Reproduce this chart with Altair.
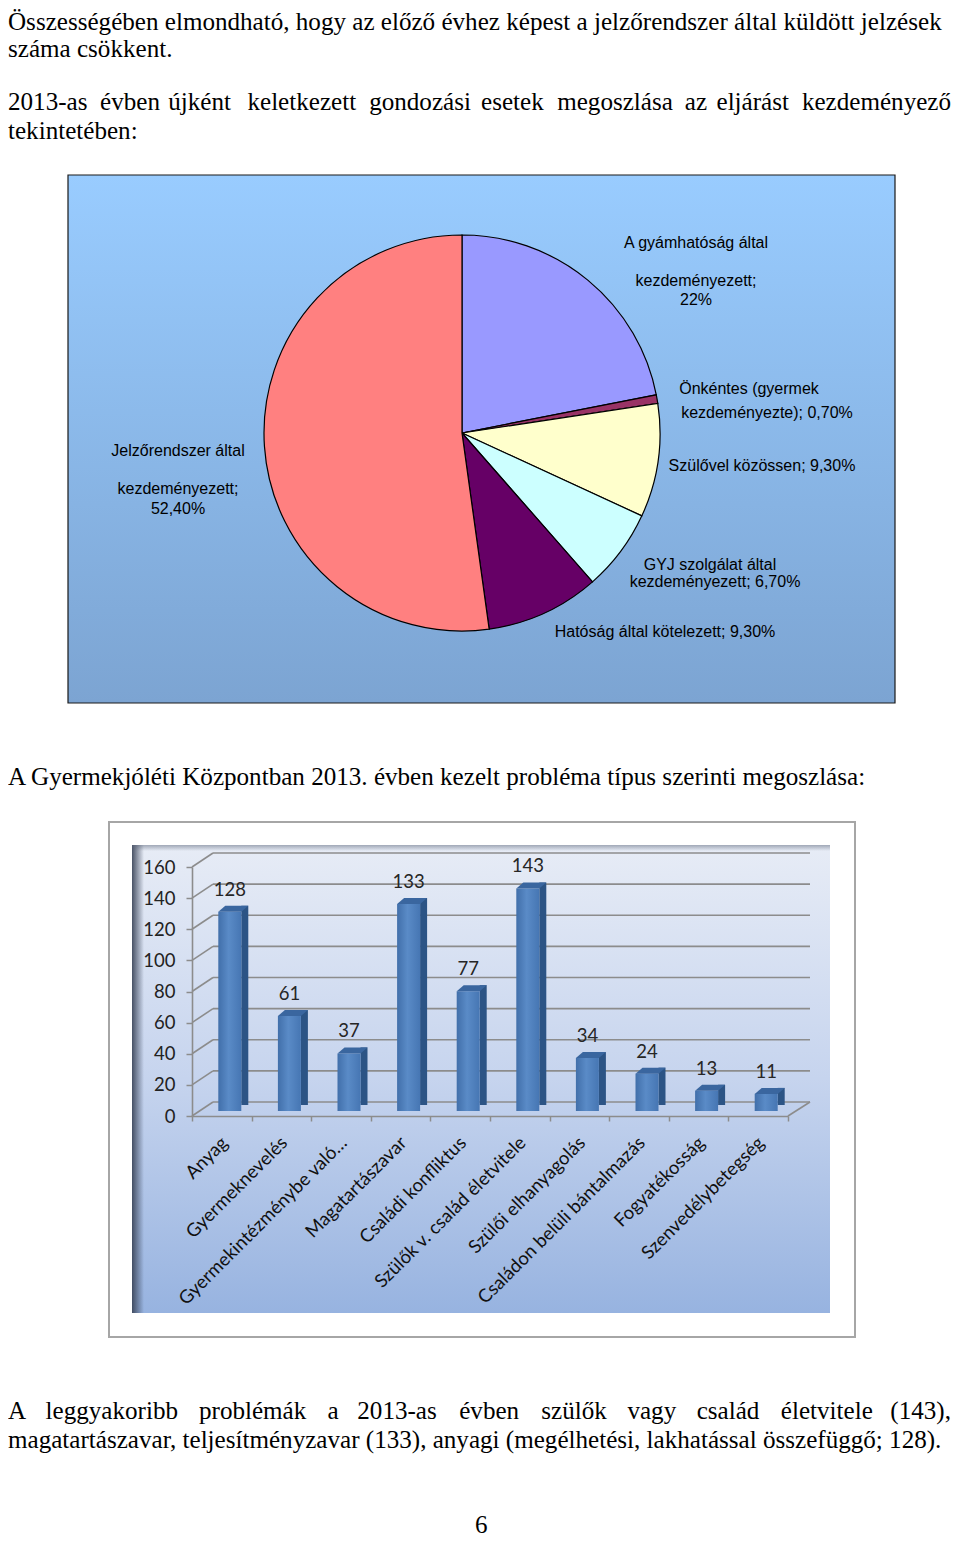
import altair as alt
import pandas as pd

W, H = 944, 1531

# ---------------- data ----------------
pie_categories = [
    "A gyámhatóság által kezdeményezett",
    "Önkéntes (gyermek kezdeményezte)",
    "Szülővel közössen",
    "GYJ szolgálat által kezdeményezett",
    "Hatóság által kötelezett",
    "Jelzőrendszer által kezdeményezett",
]
pie_values = [22.0, 0.7, 9.3, 6.7, 9.3, 52.4]
pie_colors = ["#9999FF", "#993366", "#FFFFCC", "#CCFFFF", "#660066", "#FF8080"]

pie_label_lines = [
    "A gyámhatóság által", "kezdeményezett;", "22%",
    "Önkéntes (gyermek", "kezdeményezte); 0,70%",
    "Szülővel közössen; 9,30%",
    "GYJ szolgálat által", "kezdeményezett; 6,70%",
    "Hatóság által kötelezett; 9,30%",
    "Jelzőrendszer által", "kezdeményezett;", "52,40%",
]

bar_categories = [
    "Anyag", "Gyermeknevelés", "Gyermekintézménybe való…", "Magatartászavar",
    "Családi konfliktus", "Szülők v. család életvitele", "Szülői elhanyagolás",
    "Családon belüli bántalmazás", "Fogyatékosság", "Szenvedélybetegség",
]
bar_values = [128, 61, 37, 133, 77, 143, 34, 24, 13, 11]
y_ticks = [0, 20, 40, 60, 80, 100, 120, 140, 160]

para_lines = [
    "Összességében elmondható, hogy az előző évhez képest a jelzőrendszer által küldött jelzések",
    "száma csökkent.",
    "tekintetében:",
    "A Gyermekjóléti Központban 2013. évben kezelt probléma típus szerinti megoszlása:",
    "magatartászavar, teljesítményzavar (133), anyagi (megélhetési, lakhatással összefüggő; 128).",
    "6",
]
just_words_1 = "2013-as évben újként keletkezett gondozási esetek megoszlása az eljárást kezdeményező".split()
just_words_2 = "A leggyakoribb problémák a 2013-as évben szülők vagy család életvitele (143),".split()

# ---------------- layout (page pixels) ----------------
para_x = [4, 4, 4, 4, 4, 476]
para_base = [30, 57, 139, 785, 1448, 1533]
just_x_1 = [4, 97, 166, 246, 369, 482, 559, 688, 720]
just_base_1 = 110
just_x_2 = [4, 42, 197, 327, 357, 460, 543, 630, 700, 785]
just_base_2 = 1419
right_edge = 957

pie_label_cx = [696, 696, 696, 749, 767, 762, 710, 715, 665, 178, 178, 178]
pie_label_cy = [243, 281, 300, 389, 413, 466, 565, 582, 632, 451, 489, 509]


def tx(px):
    return (px - 4) * W / 954.0


def cy(py):
    return py - 8


# ---------------- body text ----------------
rows = []
for t, x, b in zip(para_lines, para_x, para_base):
    rows.append({"t": t, "x": tx(x), "y": cy(b)})
for t, x in zip(just_words_1[:-1], just_x_1):
    rows.append({"t": t, "x": tx(x), "y": cy(just_base_1)})
for t, x in zip(just_words_2[:-1], just_x_2):
    rows.append({"t": t, "x": tx(x), "y": cy(just_base_2)})
body_df = pd.DataFrame(rows)
body_r_df = pd.DataFrame({
    "t": [just_words_1[-1], just_words_2[-1]],
    "x": [tx(right_edge), tx(right_edge)],
    "y": [cy(just_base_1), cy(just_base_2)],
})

body_style = dict(font="Liberation Serif", fontSize=25.1, color="#000000", baseline="alphabetic")
body = alt.Chart(body_df).mark_text(align="left", **body_style).encode(
    x=alt.X("x:Q", scale=None, axis=None),
    y=alt.Y("y:Q", scale=None, axis=None),
    text="t:N",
)
body_r = alt.Chart(body_r_df).mark_text(align="right", **body_style).encode(
    x=alt.X("x:Q", scale=None, axis=None),
    y=alt.Y("y:Q", scale=None, axis=None),
    text="t:N",
)

one = pd.DataFrame({"a": [0]})

# ---------------- pie panel ----------------
pie_bg = alt.Chart(one).mark_rect(
    color=alt.LinearGradient(
        gradient="linear", x1=0, x2=0, y1=0, y2=1,
        stops=[alt.GradientStop(color="#99CCFF", offset=0),
               alt.GradientStop(color="#7CA4D2", offset=1)],
    ),
    stroke="#1a1a1a", strokeWidth=1.2,
).encode(x=alt.value(60), x2=alt.value(887), y=alt.value(167), y2=alt.value(695))

pie_df = pd.DataFrame({"cat": pie_categories, "v": pie_values, "idx": list(range(len(pie_values)))})
pie = alt.Chart(pie_df).mark_arc(radius=198, stroke="#000000", strokeWidth=1.2).encode(
    theta=alt.Theta("v:Q", stack=True),
    order=alt.Order("idx:Q"),
    color=alt.Color("cat:N", scale=alt.Scale(domain=pie_categories, range=pie_colors), legend=None),
    x=alt.value(454),
    y=alt.value(425),
)

pl_df = pd.DataFrame({"t": pie_label_lines,
                      "x": [c - 8 for c in pie_label_cx],
                      "y": [cy(c) for c in pie_label_cy]})
pie_labels = alt.Chart(pl_df).mark_text(
    font="Liberation Sans", fontSize=16, color="#000000", align="center", baseline="middle"
).encode(
    x=alt.X("x:Q", scale=None, axis=None),
    y=alt.Y("y:Q", scale=None, axis=None),
    text="t:N",
)

# ---------------- bar chart panel ----------------
frame = alt.Chart(one).mark_rect(color="#FFFFFF", stroke="#A6A6A6", strokeWidth=2).encode(
    x=alt.value(101), x2=alt.value(847), y=alt.value(814), y2=alt.value(1329))

inner = alt.Chart(one).mark_rect(
    color=alt.LinearGradient(
        gradient="linear", x1=0, x2=0, y1=0, y2=1,
        stops=[alt.GradientStop(color="#E7ECF6", offset=0),
               alt.GradientStop(color="#C6D4EE", offset=0.5),
               alt.GradientStop(color="#97B3E0", offset=1)],
    )
).encode(x=alt.value(124), x2=alt.value(822), y=alt.value(837), y2=alt.value(1305))

shadow_left = alt.Chart(one).mark_rect(
    color=alt.LinearGradient(
        gradient="linear", x1=0, x2=1, y1=0, y2=0,
        stops=[alt.GradientStop(color="rgba(55,65,85,0.9)", offset=0),
               alt.GradientStop(color="rgba(55,65,85,0)", offset=1)],
    )
).encode(x=alt.value(124), x2=alt.value(136), y=alt.value(837), y2=alt.value(1305))

shadow_top = alt.Chart(one).mark_rect(
    color=alt.LinearGradient(
        gradient="linear", x1=0, x2=0, y1=0, y2=1,
        stops=[alt.GradientStop(color="rgba(90,100,120,0.5)", offset=0),
               alt.GradientStop(color="rgba(90,100,120,0)", offset=1)],
    )
).encode(x=alt.value(124), x2=alt.value(822), y=alt.value(837), y2=alt.value(843))

Y_RANGE = [1108, 859]
X_RANGE = [184, 780]
ysc = alt.Scale(domain=[0, 160], range=Y_RANGE, nice=False, zero=True)
xsc = alt.Scale(domain=bar_categories, range=X_RANGE, paddingInner=0, paddingOuter=0)

tick_df = pd.DataFrame({"v": y_ticks})
grid = alt.Chart(tick_df).mark_rule(color="#8C8C8C", strokeWidth=1.6, yOffset=-14).encode(
    y=alt.Y("v:Q", scale=ysc, axis=None),
    x=alt.value(205), x2=alt.value(802),
)
diag = alt.Chart(tick_df).mark_rule(color="#8C8C8C", strokeWidth=1.6, y2Offset=-14).encode(
    y=alt.Y("v:Q", scale=ysc, axis=None),
    y2=alt.Y2("v"),
    x=alt.value(184), x2=alt.value(205),
)
floor_df = pd.DataFrame({"v": [0]})
floor_diag = alt.Chart(floor_df).mark_rule(color="#8C8C8C", strokeWidth=1.6, y2Offset=-14).encode(
    y=alt.Y("v:Q", scale=ysc, axis=None),
    y2=alt.Y2("v"),
    x=alt.value(780), x2=alt.value(802),
)

bar_df = pd.DataFrame({"cat": bar_categories, "v": bar_values})

side = alt.Chart(bar_df).mark_bar(
    width=7, xOffset=23, yOffset=-11, y2Offset=-11, color="#2C5485"
).encode(
    x=alt.X("cat:N", scale=xsc, sort=bar_categories, axis=None),
    y=alt.Y("v:Q", scale=ysc, axis=None),
)

front = alt.Chart(bar_df).mark_bar(
    width=23, xOffset=8, yOffset=-5, y2Offset=-5,
    color=alt.LinearGradient(
        gradient="linear", x1=0, x2=1, y1=0, y2=0,
        stops=[alt.GradientStop(color="#416FAA", offset=0),
               alt.GradientStop(color="#5A8BC7", offset=0.45),
               alt.GradientStop(color="#4676B3", offset=1)],
    ),
).encode(
    x=alt.X("cat:N", scale=xsc, sort=bar_categories,
            axis=alt.Axis(orient="bottom", offset=-(H - Y_RANGE[0]), title=None,
                          labelAngle=-45, labelFont="Lato", labelFontSize=18.5,
                          labelColor="#111111", labelLimit=400, labelOverlap=False,
                          labelOffset=-4, labelPadding=12,
                          tickBand="extent", tickColor="#8C8C8C", tickSize=5, tickWidth=1.5,
                          domainColor="#8C8C8C", domainWidth=1.6, grid=False, zindex=1)),
    y=alt.Y("v:Q", scale=ysc,
            axis=alt.Axis(orient="left", offset=-X_RANGE[0], values=y_ticks, title=None,
                          labelFont="Lato", labelFontSize=18.5, labelColor="#222222",
                          labelPadding=11, tickColor="#8C8C8C", tickSize=6, tickWidth=1.5,
                          domainColor="#8C8C8C", domainWidth=1.6, grid=False, zindex=1)),
)

top_path = "M -1 0.2 L 0.5333 0.2 L 1 -0.2 L -0.5333 -0.2 Z"
top = alt.Chart(bar_df).mark_point(
    shape=top_path, size=900, filled=True, opacity=1, strokeWidth=0,
    color="#3A669F", xOffset=11.5, yOffset=-8,
).encode(
    x=alt.X("cat:N", scale=xsc, sort=bar_categories, axis=None),
    y=alt.Y("v:Q", scale=ysc, axis=None),
)

values_txt = alt.Chart(bar_df).mark_text(
    font="Lato", fontSize=18.5, color="#262626", xOffset=8, yOffset=-21,
    align="center", baseline="alphabetic",
).encode(
    x=alt.X("cat:N", scale=xsc, sort=bar_categories, axis=None),
    y=alt.Y("v:Q", scale=ysc, axis=None),
    text="v:Q",
)

chart = alt.layer(
    body, body_r, pie_bg, pie, pie_labels,
    frame, inner, shadow_left, shadow_top,
    grid, diag, floor_diag, side, front, top, values_txt,
).resolve_scale(x="independent", y="independent").properties(
    width=W, height=H, padding=0, autosize="none", background="#FFFFFF"
).configure_view(stroke=None)

chart.save("out.html", embed_options={"renderer": "svg", "actions": False})
